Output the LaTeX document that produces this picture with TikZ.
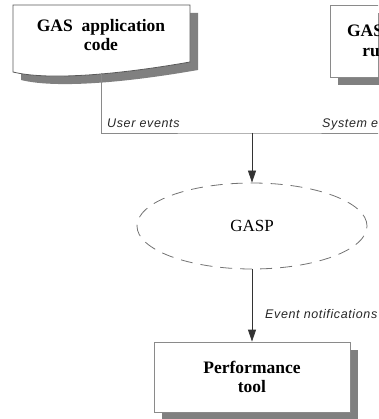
\documentclass[tikz,border=0pt]{standalone}
\usepackage{fontspec}
\setmainfont{Liberation Serif}
\setsansfont{Liberation Sans}
\newfontfamily\lblfont[LetterSpace=5]{Liberation Sans}
\usetikzlibrary{arrows.meta,shapes.geometric,calc,backgrounds}
\definecolor{shadowc}{HTML}{808080}
\definecolor{edgec}{HTML}{8A8A8A}
\begin{document}
\begin{tikzpicture}[x=1pt,y=-1pt,
  boxtext/.style={font=\fontsize{17.5}{19.5}\selectfont\bfseries, align=center},
  boxstyle/.style={draw=edgec, line width=0.8pt, fill=white, rectangle, inner sep=0pt},
  lbl/.style={font=\lblfont\itshape\fontsize{12.5}{14}\selectfont, inner sep=0pt, anchor=base west, text=black!85},
  conn/.style={draw=edgec, line width=0.8pt},
  arr/.style={draw=black!80, line width=0.8pt, -{Triangle[length=12pt,width=8pt]}},
]
\useasboundingbox (0,0) rectangle (378,419);
\clip (0,0) rectangle (378,419);

% document shape (GAS application code)
\def\docpath{(13,5) -- (190,5) -- (190,62) .. controls (110,76) and (45,80) .. (13,72) -- cycle}
\fill[shadowc, shift={(8,8)}] \docpath;
\filldraw[fill=white, draw=black!65, line width=0.8pt] \docpath;
\node[boxtext, inner sep=0pt] (app) at (101,35) {GAS~ application\\code};
\coordinate (appbot) at (101,73);

% runtime box
\node[boxstyle, minimum width=125pt, minimum height=72pt, boxtext] (rt) at (392.5,41) {GAS system\\runtime};
\begin{scope}[on background layer]
  \fill[shadowc] ($(rt.north west)+(8,8)$) rectangle ($(rt.south east)+(8,8)$);
\end{scope}

% performance tool box
\node[boxstyle, minimum width=196pt, minimum height=70pt, boxtext] (perf) at (252,377) {Performance\\tool};
\begin{scope}[on background layer]
  \fill[shadowc] ($(perf.north west)+(8,8)$) rectangle ($(perf.south east)+(8,8)$);
\end{scope}

% GASP ellipse
\node[ellipse, draw=black!55, line width=0.8pt, dash pattern=on 12pt off 8pt,
      minimum width=230pt, minimum height=86pt, inner sep=0pt,
      font=\fontsize{17}{19}\selectfont] (gasp) at (252,226) {GASP};

% connectors
\coordinate (jn) at (252,133);
\draw[conn] (appbot) |- (jn) -| (rt.south);
\draw[arr] (jn) -- (gasp.north);
\draw[arr] (gasp.south) -- (perf.north);

% labels
\node[lbl] (ue) at (107,128) {User events};
\node[lbl] (se) at (322,128) {System events};
\node[lbl] (en) at (265,318) {Event notifications};
\end{tikzpicture}
\end{document}
